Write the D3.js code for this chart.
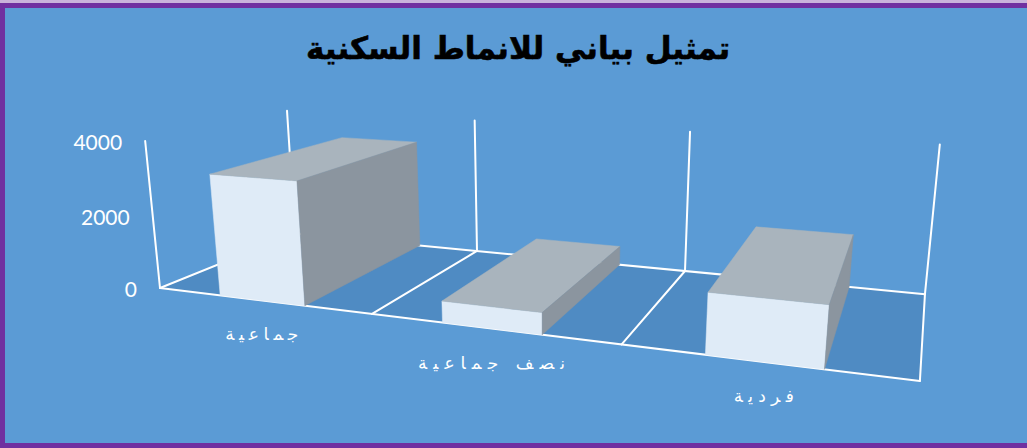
<!DOCTYPE html>
<html>
<head>
<meta charset="utf-8">
<script src="https://cdn.jsdelivr.net/npm/d3@7"></script>
<style>
  html, body { margin: 0; padding: 0; background: #c9b3db; }
  svg { display: block; }
</style>
</head>
<body>
<svg id="chart" width="1027" height="448"></svg>
<script>
// ---- data ----
const title = "تمثيل بياني للانماط السكنية";
const categories = ["جماعية", "نصف جماعية", "فردية"];
const values = [3250, 550, 1460];
const valueTicks = [0, 2000, 4000];
const valueMax = 4000;

// ---- layout / style ----
const W = 1027, H = 448;
const colors = {
  bg: "#5b9bd5", floor: "#4f8bc3", border: "#7030a0", line: "#ffffff",
  front: "#dfebf7", top: "#a9b4bd", side: "#8b959f", text: "#ffffff", title: "#000000"
};
const labelWidths = [73, 147, 60];

const svg = d3.select("#chart");

// scales (world units)
const xBand = d3.scaleBand().domain(categories).range([0, categories.length])
  .paddingInner(0.6).paddingOuter(0.3);
const yScale = d3.scaleLinear().domain([0, valueMax]).range([0, 1]);
const zScale = d3.scaleLinear().domain([0, 1]).range([0, 1]);

// perspective camera (homogeneous 3x4 projection)
const cam = {
  u: [183.94, -20.2, 196.3, 160],
  v: [2.26, -152.2, -6.0, 288],
  w: [-0.0754, -0.037, 0.208, 1]
};
function project(X, Y, Z) {
  const w = cam.w[0]*X + cam.w[1]*Y + cam.w[2]*Z + cam.w[3];
  return [
    (cam.u[0]*X + cam.u[1]*Y + cam.u[2]*Z + cam.u[3]) / w,
    (cam.v[0]*X + cam.v[1]*Y + cam.v[2]*Z + cam.v[3]) / w
  ];
}
const line = d3.line();

// background + border
svg.append("rect").attr("x", 2.5).attr("y", 5.5).attr("width", W + 10).attr("height", H - 8)
  .attr("fill", colors.bg).attr("stroke", colors.border).attr("stroke-width", 5);

// title
svg.append("text")
  .attr("x", 518).attr("y", 59)
  .attr("text-anchor", "middle")
  .attr("direction", "rtl")
  .style("font-family", "'DejaVu Sans', sans-serif")
  .style("font-weight", "bold")
  .style("font-size", "31px")
  .attr("fill", colors.title)
  .attr("stroke", colors.title).attr("stroke-width", 0.6)
  .text(title);

const nCat = categories.length;
const z0 = zScale(0), z1 = zScale(1);
const yTop = yScale(valueMax);

// floor
const floorPts = [[0, z0], [nCat, z0], [nCat, z1], [0, z1]].map(([x, z]) => project(x, 0, z));
svg.append("path").attr("d", line(floorPts) + "Z").attr("fill", colors.floor);

const g = svg.append("g").attr("stroke", colors.line).attr("stroke-width", 2).attr("fill", "none")
  .attr("stroke-linecap", "round");
// category boundaries (floor depth lines + back wall verticals)
const bounds = d3.range(nCat + 1).map(i => i * xBand.step());
bounds.forEach(x => {
  g.append("path").attr("d", line([project(x, 0, z0), project(x, 0, z1)]));
  g.append("path").attr("d", line([project(x, 0, z1), project(x, yTop, z1)]));
});
// back edge & front edge of floor
g.append("path").attr("d", line([project(0, 0, z1), project(nCat, 0, z1)]));
g.append("path").attr("d", line([project(0, 0, z0), project(nCat, 0, z0)]));
// value axis line (front-left)
g.append("path").attr("d", line([project(0, 0, z0), project(0, yTop, z0)]));

// value tick labels
svg.append("g").selectAll("text").data(valueTicks).join("text")
  .attr("x", d => project(0, yScale(d), z0)[0] - 23)
  .attr("y", d => project(0, yScale(d), z0)[1] + 1.5)
  .attr("dy", "0.36em")
  .attr("text-anchor", "end")
  .style("font-family", "Lato, 'Open Sans', sans-serif")
  .style("font-size", "21px")
  .attr("fill", colors.text)
  .text(d => d);

// bars
function area(pts) {
  let a = 0;
  for (let i = 0; i < pts.length; i++) {
    const p = pts[i], q = pts[(i + 1) % pts.length];
    a += p[0] * q[1] - q[0] * p[1];
  }
  return a / 2;
}
const barG = svg.append("g");
categories.forEach((c, i) => {
  const x0 = xBand(c), x1 = x0 + xBand.bandwidth();
  const h = yScale(values[i]);
  const P = (x, y, z) => project(x, y, z);
  const faces = [
    { pts: [P(x0,0,z0), P(x1,0,z0), P(x1,h,z0), P(x0,h,z0)], fill: colors.front },   // front
    { pts: [P(x1,0,z1), P(x0,0,z1), P(x0,h,z1), P(x1,h,z1)], fill: colors.front },   // back
    { pts: [P(x0,h,z0), P(x1,h,z0), P(x1,h,z1), P(x0,h,z1)], fill: colors.top },     // top
    { pts: [P(x1,0,z0), P(x1,0,z1), P(x1,h,z1), P(x1,h,z0)], fill: colors.side },    // right
    { pts: [P(x0,0,z1), P(x0,0,z0), P(x0,h,z0), P(x0,h,z1)], fill: colors.side }     // left
  ];
  const ref = area(faces[0].pts);
  faces.filter(f => Math.sign(area(f.pts)) === Math.sign(ref))
    .forEach(f => {
      barG.append("path").attr("d", line(f.pts) + "Z")
        .attr("fill", f.fill).attr("stroke", f.fill).attr("stroke-width", 0.5)
        .attr("stroke-linejoin", "round");
    });
});

// category labels
svg.append("g").selectAll("text").data(categories).join("text")
  .attr("x", d => project(xBand(d) + xBand.bandwidth() / 2, 0, z0)[0] - labelWidths[categories.indexOf(d)] / 2)
  .attr("y", d => project(xBand(d) + xBand.bandwidth() / 2, 0, z0)[1] + 40)
  .attr("textLength", (d, i) => labelWidths[i])
  .attr("lengthAdjust", "spacing")
  .style("font-family", "'DejaVu Sans', sans-serif")
  .style("font-size", "17px")
  .attr("fill", colors.text)
  .text(d => d);
</script>
</body>
</html>
